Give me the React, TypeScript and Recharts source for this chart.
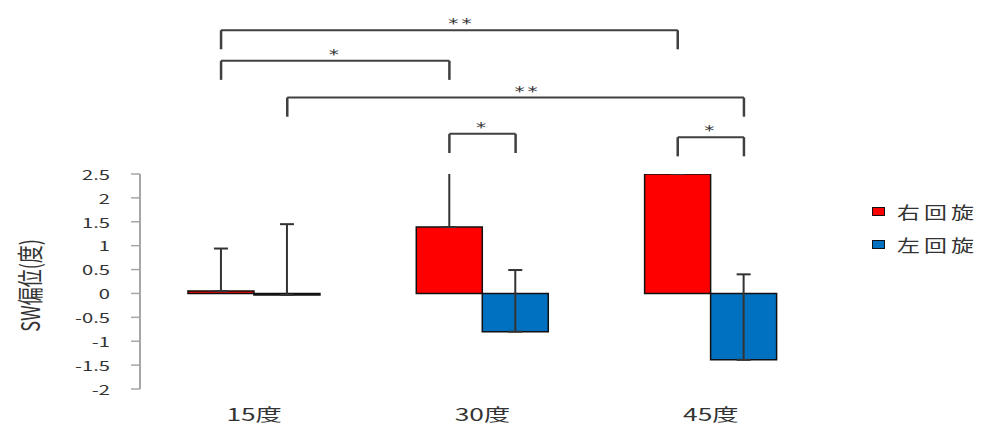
import { BarChart, Bar, XAxis, YAxis, ErrorBar, ReferenceLine, Legend } from "recharts";

// 回旋角度ごとの SW 偏位 (平均値とプラス側の誤差)
const categories = ["15度", "30度", "45度"];
const rightTurn = [0.05, 1.39, 2.5];
const rightTurnErr = [0.89, 1.2, 1.0];
const leftTurn = [-0.03, -0.8, -1.39];
const leftTurnErr = [1.48, 1.29, 1.79];
const yTicks = [-2, -1.5, -1, -0.5, 0, 0.5, 1, 1.5, 2, 2.5];
const Y_DOMAIN: [number, number] = [-2, 2.5];

// 有意差の括弧: [カテゴリ, 系列] から [カテゴリ, 系列] へ, 高さ(軸の値), 記号
type End = [number, "right" | "left"];
const brackets: { from: End; to: End; top: number; mark: string }[] = [
  { from: [0, "right"], to: [2, "right"], top: 5.51, mark: "**" },
  { from: [0, "right"], to: [1, "right"], top: 4.87, mark: "*" },
  { from: [0, "left"], to: [2, "left"], top: 4.1, mark: "**" },
  { from: [1, "right"], to: [1, "left"], top: 3.34, mark: "*" },
  { from: [2, "right"], to: [2, "left"], top: 3.27, mark: "*" },
];
const LEG = 0.4;

const W = 981;
const H = 425;
const MARGIN = { top: 174, right: 156, bottom: 6, left: 0 };
const Y_AXIS_W = 140;
const X_AXIS_H = 30;
const PLOT = {
  x: MARGIN.left + Y_AXIS_W,
  y: MARGIN.top,
  w: W - MARGIN.left - Y_AXIS_W - MARGIN.right,
  h: H - MARGIN.top - MARGIN.bottom - X_AXIS_H,
};

const CATEGORY_GAP = 0.21;
const STRETCH = 1.55;
const FONT = '"Noto Sans CJK JP", "Noto Sans", sans-serif';
const RED = "#ff0000";
const BLUE = "#0070c0";

const data = categories.map((name, i) => ({
  name,
  slot: i + 0.5,
  right: rightTurn[i],
  rightErr: [0, rightTurnErr[i]],
  left: leftTurn[i],
  leftErr: [0, leftTurnErr[i]],
}));

// バーの中心位置 (カテゴリ単位の数値軸上)
const barCenter = ([cat, side]: End) => {
  const half = (1 - 2 * CATEGORY_GAP) / 4;
  return cat + 0.5 + (side === "right" ? -half : half);
};

const XTick = (props: any) => {
  const { x, y, payload } = props;
  return (
    <text
      transform={`translate(${x},${y}) scale(${STRETCH},1)`}
      textAnchor="middle"
      dominantBaseline="central"
      fontFamily={FONT}
      fontSize={17}
      fill="#333"
    >
      {payload.value}
    </text>
  );
};

const YTick = (props: any) => {
  const { x, y, payload } = props;
  return (
    <text
      transform={`translate(${x},${y}) scale(${STRETCH},1)`}
      textAnchor="end"
      dominantBaseline="central"
      fontFamily={FONT}
      fontSize={13}
      fill="#333"
    >
      {payload.value}
    </text>
  );
};

const YLabel = (props: any) => {
  const vb = props.viewBox || { x: 0, y: PLOT.y, width: Y_AXIS_W, height: PLOT.h };
  const cx = vb.x + 28.5;
  const cy = vb.y + vb.height / 2 + 4;
  return (
    <text
      transform={`translate(${cx},${cy}) scale(1.45,1) rotate(-90)`}
      textAnchor="middle"
      dominantBaseline="central"
      fontFamily={FONT}
      fontSize={18}
      fill="#333"
    >
      SW偏位(度)
    </text>
  );
};

const Mark = (props: any) => {
  const { viewBox, text } = props;
  if (!viewBox) return null;
  const cx = viewBox.x + viewBox.width / 2 + (text.length - 1) * 12;
  const cy = viewBox.y - 2;
  return (
    <text
      transform={`translate(${cx},${cy}) scale(1.45,1)`}
      textAnchor="middle"
      fontFamily='"DejaVu Sans", sans-serif'
      fontSize={14}
      letterSpacing={2}
      fill="#333"
    >
      {text}
    </text>
  );
};

const LegendBox = (props: any) => {
  const items = props.payload || [];
  return (
    <div style={{ fontFamily: FONT }}>
      {items.map((it: any) => (
        <div key={it.value} style={{ display: "flex", alignItems: "center", height: 33 }}>
          <span
            style={{
              width: 13,
              height: 9,
              boxSizing: "border-box",
              border: "1px solid #111",
              background: it.color,
              marginRight: 12,
            }}
          />
          <span
            style={{
              display: "inline-block",
              fontSize: 17,
              letterSpacing: 3,
              color: "#333",
              whiteSpace: "nowrap",
              transform: "scaleX(1.35)",
              transformOrigin: "left center",
            }}
          >
            {it.value}
          </span>
        </div>
      ))}
    </div>
  );
};

export default function App() {
  const lineStyle = { stroke: "#404040", strokeWidth: 2 };
  return (
    <div style={{ position: "absolute", left: 0, top: 0, width: W, height: H, background: "#fff" }}>
      <BarChart
        width={W}
        height={H}
        data={data}
        margin={MARGIN}
        barCategoryGap={`${CATEGORY_GAP * 100}%`}
        barGap={0}
      >
        {/* 誤差線はプロット領域で切る */}
        <defs>
          <clipPath id="plot-clip">
            <rect x={PLOT.x - 20} y={PLOT.y} width={PLOT.w + 40} height={PLOT.h} />
          </clipPath>
        </defs>
        <XAxis
          dataKey="name"
          axisLine={false}
          tickLine={false}
          tickSize={0}
          tickMargin={24}
          height={X_AXIS_H}
          interval={0}
          tick={<XTick />}
        />
        <XAxis xAxisId="pos" dataKey="slot" type="number" domain={[0, categories.length]} allowDataOverflow hide />
        <YAxis
          width={Y_AXIS_W}
          domain={Y_DOMAIN}
          ticks={yTicks}
          interval={0}
          allowDataOverflow
          axisLine={{ stroke: "#a6a6a6", strokeWidth: 2 }}
          tickLine={{ stroke: "#a6a6a6", strokeWidth: 1.5 }}
          tickSize={9}
          tickMargin={21}
          tick={<YTick />}
          label={<YLabel />}
        />
        <Legend
          layout="vertical"
          align="center"
          verticalAlign="middle"
          wrapperStyle={{ left: 872, top: 195, width: 109 }}
          content={<LegendBox />}
        />
        <Bar dataKey="right" name="右回旋" fill={RED} stroke="#111" strokeWidth={1.5} isAnimationActive={false}>
          <ErrorBar
            dataKey="rightErr"
            direction="y"
            width={7}
            stroke="#333"
            strokeWidth={2}
            clipPath="url(#plot-clip)"
            isAnimationActive={false}
          />
        </Bar>
        <Bar dataKey="left" name="左回旋" fill={BLUE} stroke="#111" strokeWidth={1.5} isAnimationActive={false}>
          <ErrorBar
            dataKey="leftErr"
            direction="y"
            width={7}
            stroke="#333"
            strokeWidth={2}
            clipPath="url(#plot-clip)"
            isAnimationActive={false}
          />
        </Bar>
        {brackets.map((b, i) => {
          const x1 = barCenter(b.from);
          const x2 = barCenter(b.to);
          return [
            <ReferenceLine
              key={`t${i}`}
              xAxisId="pos"
              ifOverflow="visible"
              segment={[{ x: x1, y: b.top }, { x: x2, y: b.top }]}
              {...lineStyle}
              label={<Mark text={b.mark} />}
            />,
            <ReferenceLine
              key={`l${i}`}
              xAxisId="pos"
              ifOverflow="visible"
              segment={[{ x: x1, y: b.top }, { x: x1, y: b.top - LEG }]}
              {...lineStyle}
              strokeWidth={2.5}
            />,
            <ReferenceLine
              key={`r${i}`}
              xAxisId="pos"
              ifOverflow="visible"
              segment={[{ x: x2, y: b.top }, { x: x2, y: b.top - LEG }]}
              {...lineStyle}
              strokeWidth={2.5}
            />,
          ];
        })}
      </BarChart>
    </div>
  );
}
